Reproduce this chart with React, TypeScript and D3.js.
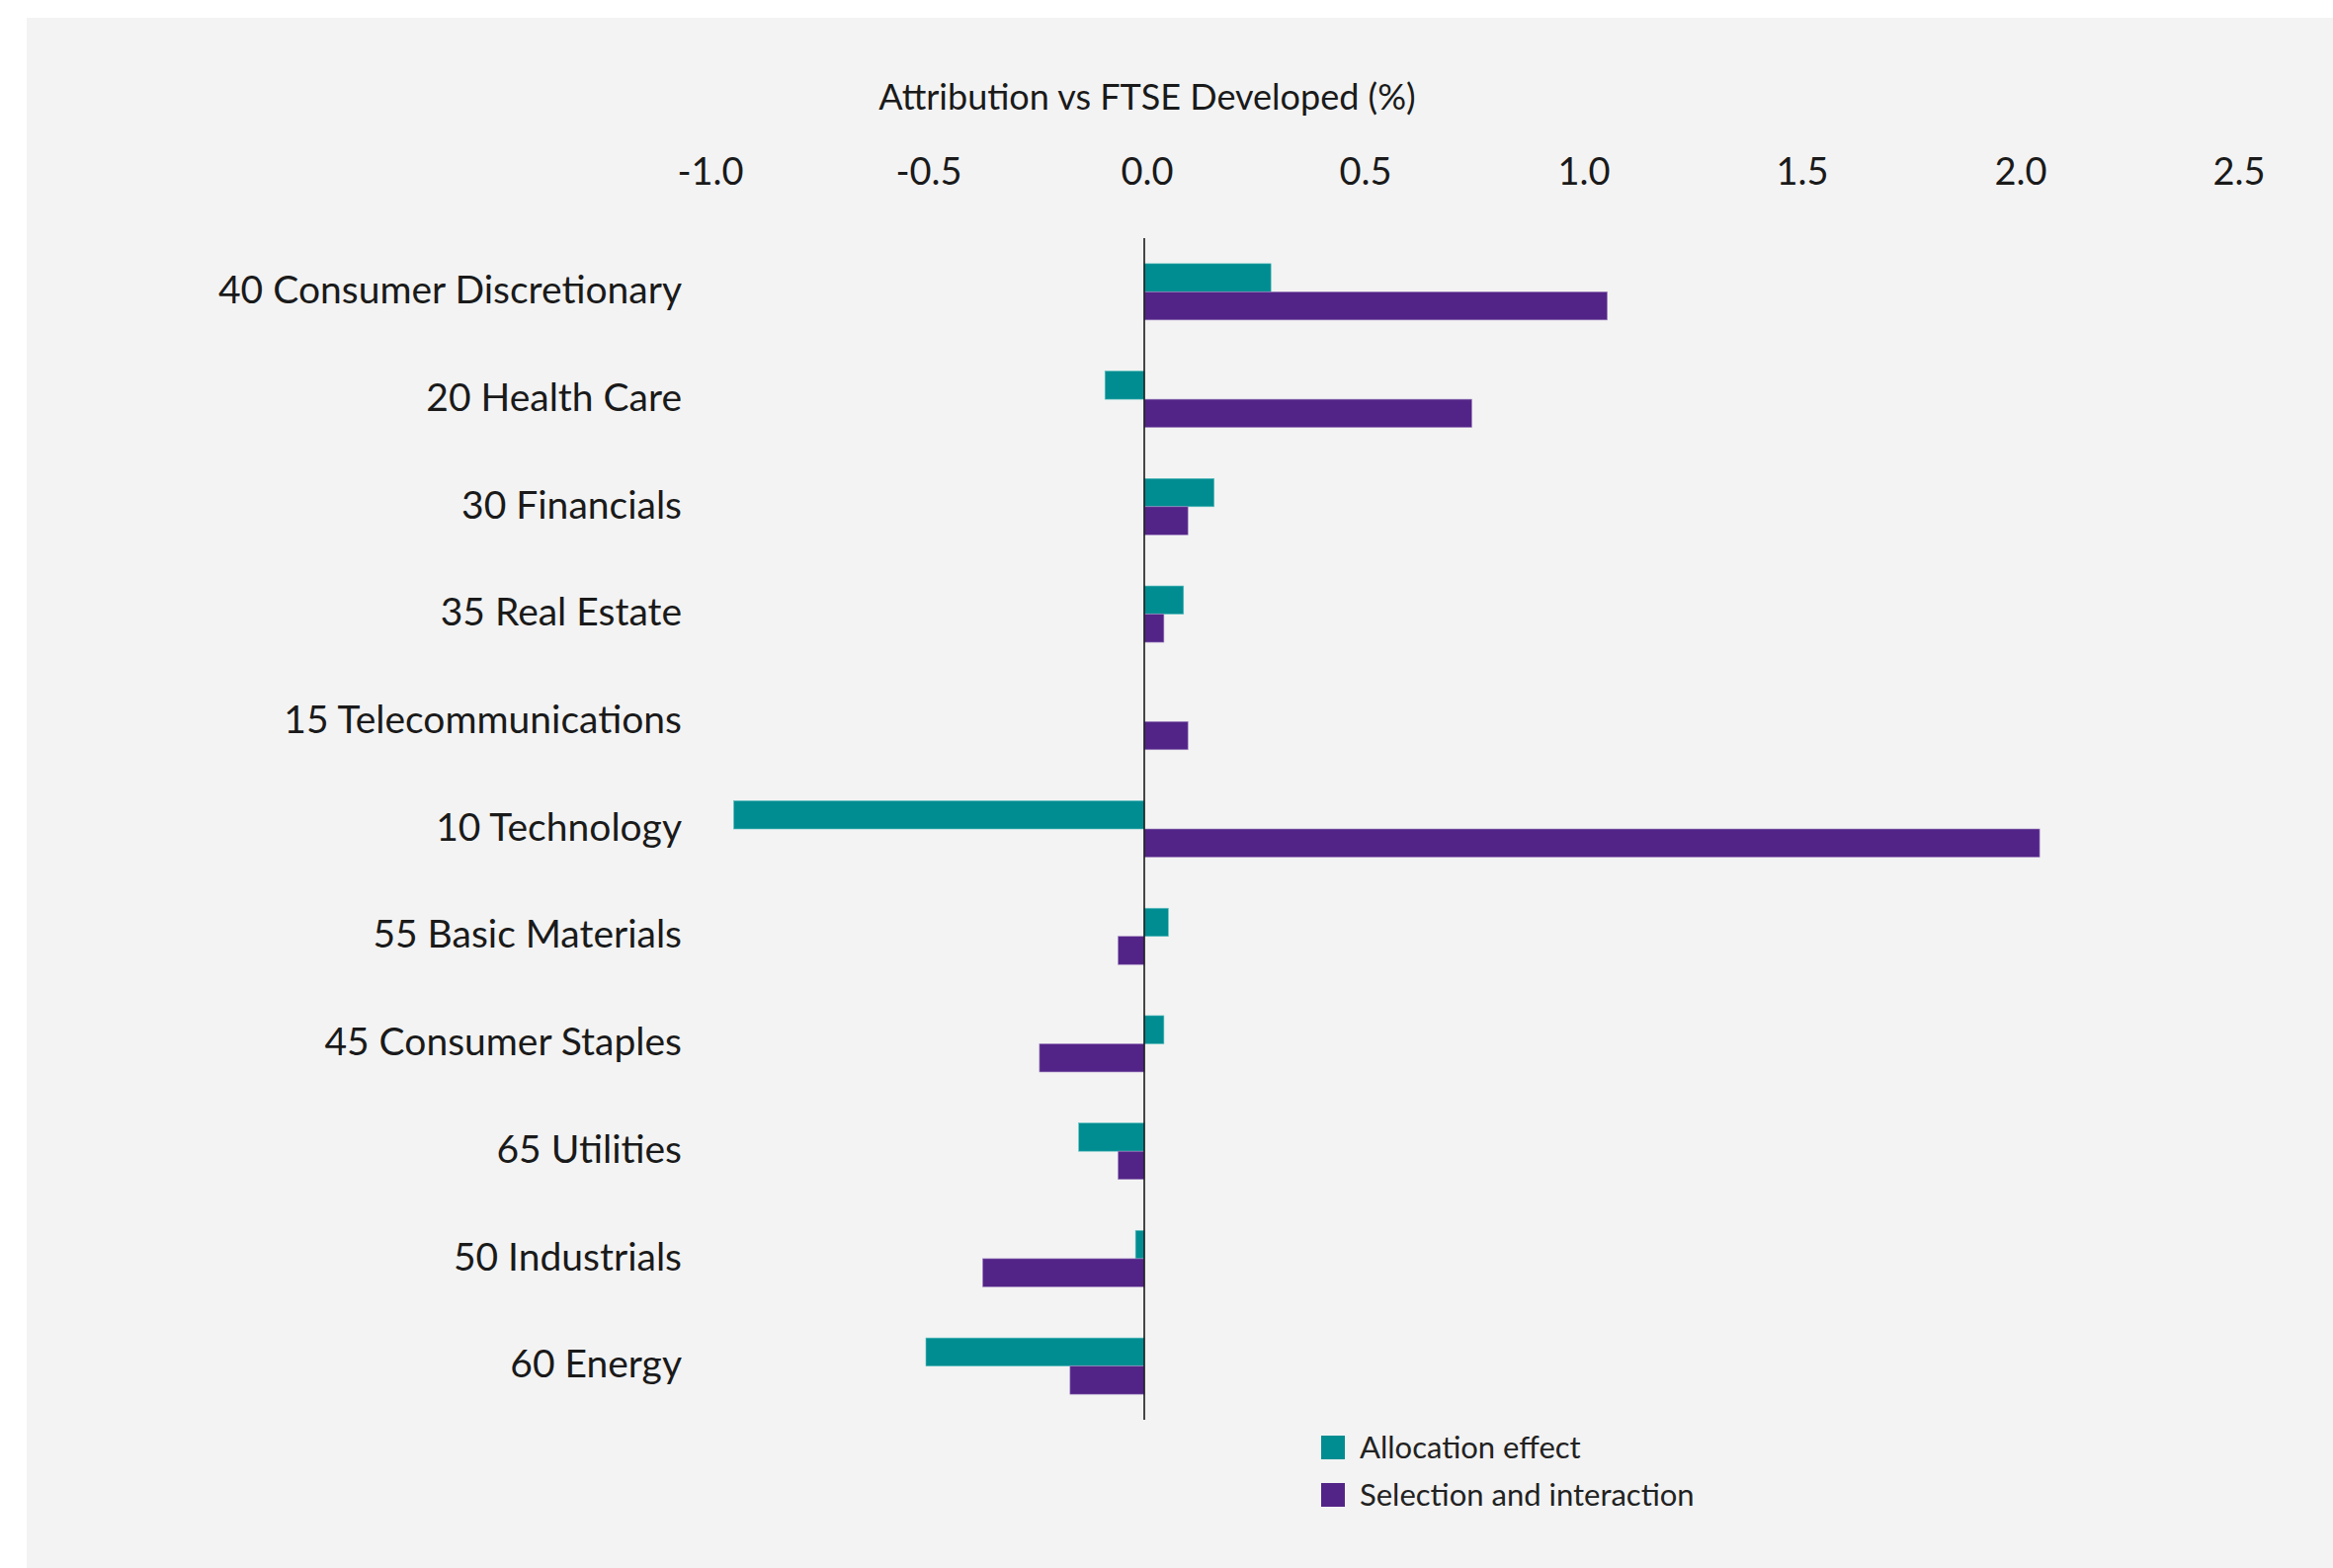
import React, { useEffect } from "react";
import * as d3 from "d3";

const categories = [
  "40 Consumer Discretionary",
  "20 Health Care",
  "30 Financials",
  "35 Real Estate",
  "15 Telecommunications",
  "10 Technology",
  "55 Basic Materials",
  "45 Consumer Staples",
  "65 Utilities",
  "50 Industrials",
  "60 Energy",
];

const allocationEffect = [0.29, -0.09, 0.16, 0.09, 0, -0.94, 0.055, 0.045, -0.15, -0.02, -0.5];
const selectionInteraction = [1.06, 0.75, 0.1, 0.045, 0.1, 2.05, -0.06, -0.24, -0.06, -0.37, -0.17];

const xTicks = [-1.0, -0.5, 0.0, 0.5, 1.0, 1.5, 2.0, 2.5];

const seriesNames = ["Allocation effect", "Selection and interaction"];
const TEAL = "#008d91";
const PURPLE = "#532487";

const W = 2361;
const H = 1587;
const FONT = "Lato, 'Open Sans', sans-serif";

// plain hyphen for negatives, like the original
const fmt = (v: number) => d3.format(".1f")(v).replace("\u2212", "-");

export default function App() {
  useEffect(() => {
    document.body.style.margin = "0";
  }, []);

  const x = d3.scaleLinear().domain([-1, 2.5]).range([716, 2263]);
  const y = d3.scaleBand().domain(categories).range([241, 1437]).padding(0);
  const barH = 28.5;

  return (
    <svg width={W} height={H} style={{ display: "block", background: "#fff" }}>
      <rect x={27} y={18} width={W - 27} height={H - 18} fill="#f3f3f3" />

      {/* axis title + ticks on top */}
      <text x={1161} y={111} textAnchor="middle" fontFamily={FONT} fontSize={36} fill="#1a1a1a">
        Attribution vs FTSE Developed (%)
      </text>
      {xTicks.map((t) => (
        <text
          key={t}
          x={x(t) + 3}
          y={187}
          textAnchor="middle"
          fontFamily={FONT}
          fontSize={38}
          fill="#1a1a1a"
        >
          {fmt(t)}
        </text>
      ))}

      {/* bars */}
      {categories.map((c, i) => {
        const mid = (y(c) ?? 0) + y.bandwidth() / 2;
        const a = allocationEffect[i];
        const s = selectionInteraction[i];
        return (
          <g key={c}>
            {a !== 0 && (
              <rect
                x={Math.min(x(0), x(a))}
                y={mid - barH}
                width={Math.abs(x(a) - x(0))}
                height={barH}
                fill={TEAL}
                stroke="#5fc0c2"
                strokeWidth={0.6}
              />
            )}
            <rect
              x={Math.min(x(0), x(s))}
              y={mid}
              width={Math.abs(x(s) - x(0))}
              height={barH}
              fill={PURPLE}
              stroke="#a48cc4"
              strokeWidth={0.6}
            />
            <text
              x={690}
              y={mid}
              dy="0.3em"
              textAnchor="end"
              fontFamily={FONT}
              fontSize={39}
              fill="#1a1a1a"
            >
              {c}
            </text>
          </g>
        );
      })}

      {/* zero line */}
      <line x1={x(0)} x2={x(0)} y1={241} y2={1437} stroke="#1a1a1a" strokeWidth={1.6} />

      {/* legend */}
      {seriesNames.map((n, i) => (
        <g key={n} transform={`translate(1337, ${1453 + i * 48})`}>
          <rect width={24} height={24} fill={i === 0 ? TEAL : PURPLE} />
          <text x={39} y={12} dy="0.35em" fontFamily={FONT} fontSize={31} fill="#222">
            {n}
          </text>
        </g>
      ))}
    </svg>
  );
}
